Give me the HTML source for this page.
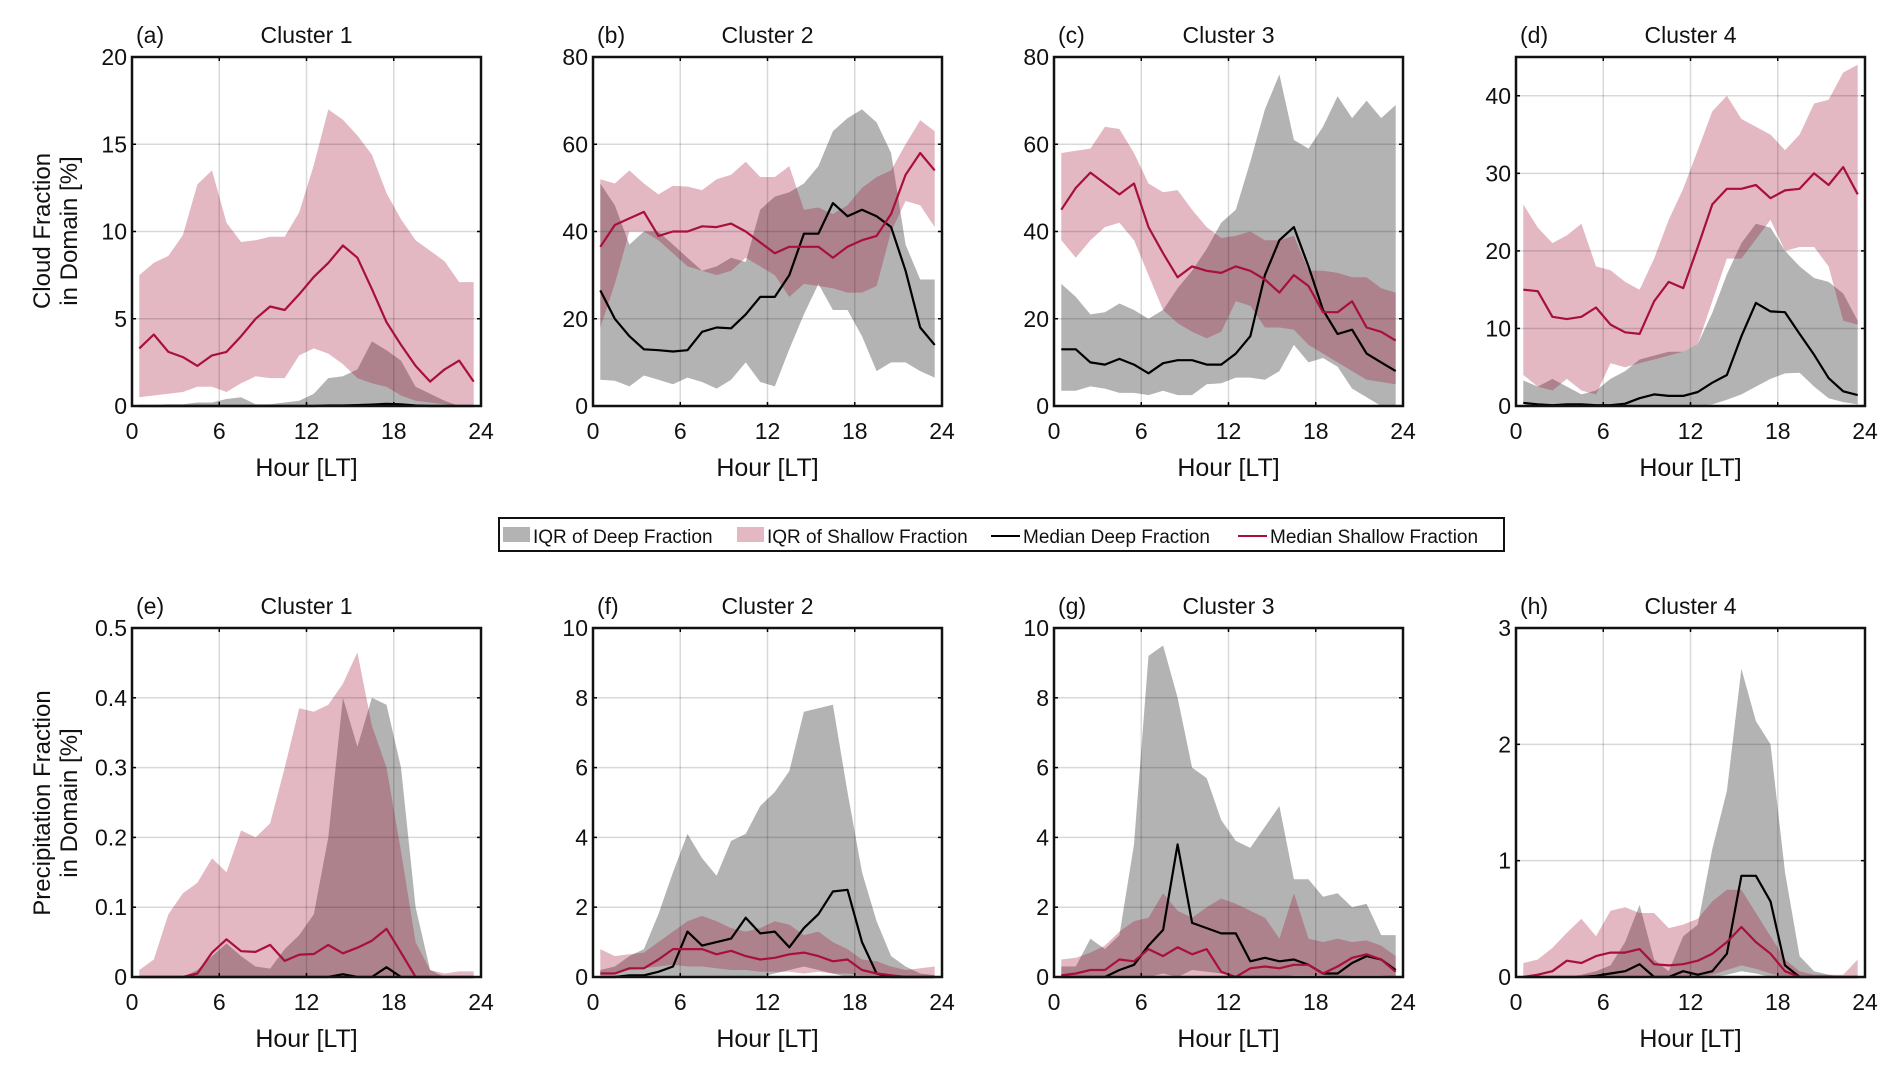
<!DOCTYPE html>
<html><head><meta charset="utf-8">
<style>
html,body{margin:0;padding:0;background:#fff;}
svg{display:block;}
text{font-family:"Liberation Sans Narrow","Liberation Sans",sans-serif;fill:#111;}
.yl{font-family:"Liberation Sans",sans-serif;}
.lg{font-family:"Liberation Sans",sans-serif;font-size:19px;}
</style></head>
<body>
<svg id="chart" width="1892" height="1072" viewBox="0 0 1892 1072" xmlns="http://www.w3.org/2000/svg"></svg>
<script>
const hours=[0.5,1.5,2.5,3.5,4.5,5.5,6.5,7.5,8.5,9.5,10.5,11.5,12.5,13.5,14.5,15.5,16.5,17.5,18.5,19.5,20.5,21.5,22.5,23.5];
const xTicks=[0,6,12,18,24];
const panelLetters=["(a)","(b)","(c)","(d)","(e)","(f)","(g)","(h)"];
const panelTitles=["Cluster 1","Cluster 2","Cluster 3","Cluster 4","Cluster 1","Cluster 2","Cluster 3","Cluster 4"];
const yMaxes=[20,80,80,45,0.5,10,10,3];
const yTickSets=[[0,5,10,15,20],[0,20,40,60,80],[0,20,40,60,80],[0,10,20,30,40],[0,0.1,0.2,0.3,0.4,0.5],[0,2,4,6,8,10],[0,2,4,6,8,10],[0,1,2,3]];

// panel a
const aShHi=[7.5,8.2,8.6,9.8,12.7,13.5,10.5,9.4,9.5,9.7,9.7,11.1,13.8,17,16.4,15.5,14.4,12.2,10.7,9.5,8.9,8.3,7.1,7.1];
const aShLo=[0.5,0.6,0.7,0.8,1.1,1.1,0.8,1.3,1.7,1.6,1.6,2.9,3.3,3.0,2.4,1.6,1.3,1.1,0.6,0.3,0.2,0.1,0,0];
const aShMed=[3.3,4.1,3.1,2.8,2.3,2.9,3.1,4.0,5.0,5.7,5.5,6.4,7.4,8.2,9.2,8.5,6.7,4.8,3.5,2.3,1.4,2.1,2.6,1.4];
const aDpHi=[0,0.05,0.1,0.1,0.2,0.2,0.4,0.5,0.1,0.1,0.2,0.3,0.7,1.6,1.7,2.1,3.7,3.2,2.6,1.1,0.7,0.3,0,0];
const aDpLo=[0,0,0,0,0,0,0,0,0,0,0,0,0,0,0,0,0,0,0,0,0,0,0,0];
const aDpMed=[0,0,0,0,0,0,0,0,0,0,0,0,0,0.03,0.03,0.05,0.08,0.12,0.1,0.03,0,0,0,0];
// panel b
const bShHi=[52,51,54,51,48.5,50.5,50.3,49.5,52,53,56,52.5,52.5,55,45,45.5,44,46,50,52.5,54,60,65.5,63];
const bShLo=[18,28,40,40,38,35,32,31,30,31,34,32,30,25,28,27.5,27,26,26,27.5,40,47,46,41];
const bShMed=[36.5,41.5,43,44.5,39,40,40,41.2,41,41.8,40,37.5,35,36.5,36.5,36.5,34,36.5,38,39,44,53,58,54];
const bDpHi=[51,46,37,40,40,37,34,31,32,34,33,45,48,49,51,55,63,66,68,65,58,37,29,29];
const bDpLo=[6,5.8,4.5,7,6,5,6.5,5.5,4,6,10,5.5,4.5,13,21,28,22,22,16,8,10,10,8,6.5];
const bDpMed=[26.5,20,16,13,12.8,12.5,12.8,17,18,17.8,21,25,25,30,39.5,39.5,46.5,43.5,45,43.5,41,31,18,14];
// panel c
const cShHi=[58,58.5,59,64,63.5,58,51,49,49.5,45,41,38.5,39,40,38,38,39,31,31,30.5,29.5,29.5,27,26];
const cShLo=[38,34,38,41,42,38,30,22,19,17,15.5,17,24,23,18,18,17.5,14,12,10,8,6,5.5,5];
const cShMed=[45,50,53.5,51,48.5,51,41,35,29.5,32,31,30.5,32,31,29,26,30,27.5,21.5,21.5,24,18,17,15];
const cDpHi=[28,25,21,21.5,23.5,22,20,22,27,31,36,42,45,56,68,76,61,59,64,71,66,70,66,69];
const cDpLo=[3.5,3.5,4.5,4,3,3,2.5,3.5,2.5,2.5,5,5.2,6.5,6.5,6,8,14,10,11,9,4,2,0,0];
const cDpMed=[13,13,10,9.5,10.8,9.5,7.5,9.8,10.5,10.5,9.5,9.5,12,16,30,38,41,32,22,16.5,17.5,12,10,8];
// panel d
const dShHi=[26,23,21,22,23.5,18,17.5,16,15,19,24,28,33,38,40,37,36,35,33,35,39,39.5,43,44];
const dShLo=[4,2.5,2,3.5,2,1.5,5.5,5,5.5,6,6.5,7,8,13.5,19,19,21.5,24,20,20.5,20.5,18,11,10.5];
const dShMed=[15,14.8,11.5,11.2,11.5,12.7,10.5,9.5,9.3,13.5,16,15.2,20.5,26,28,28,28.5,26.8,27.8,28,30,28.5,30.8,27.3];
const dDpHi=[3.3,2.5,3.5,2.5,1.5,2,3.5,4.5,6,6.5,7,7,8,12,17,21,23.5,23,20,18,16.5,16,14.5,11];
const dDpLo=[0.5,0.2,0.1,0,0,0,0,0,0,0,0,0,0,0.2,0.8,1.5,2.5,3.5,4.2,4.3,2.5,1,0.5,0.2];
const dDpMed=[0.4,0.2,0.1,0.2,0.2,0.1,0.1,0.3,1.0,1.5,1.3,1.3,1.8,3.0,4.0,9,13.3,12.2,12.1,9.3,6.6,3.6,1.9,1.4];
// panel e
const eShHi=[0.01,0.025,0.09,0.12,0.135,0.17,0.15,0.21,0.2,0.22,0.3,0.385,0.38,0.39,0.42,0.465,0.36,0.3,0.18,0.05,0.01,0.005,0.008,0.008];
const eShLo=[0,0,0,0,0,0,0,0,0,0,0,0,0,0,0,0,0,0,0,0,0,0,0,0];
const eShMed=[0,0,0,0,0.005,0.035,0.054,0.037,0.036,0.046,0.023,0.032,0.033,0.046,0.034,0.042,0.052,0.069,0.035,0,0,0,0,0];
const eDpHi=[0,0,0,0,0.01,0.03,0.048,0.03,0.015,0.012,0.04,0.06,0.09,0.2,0.4,0.33,0.4,0.39,0.3,0.1,0.01,0,0,0];
const eDpLo=[0,0,0,0,0,0,0,0,0,0,0,0,0,0,0,0,0,0,0,0,0,0,0,0];
const eDpMed=[0,0,0,0,0,0,0,0,0,0,0,0,0,0,0.004,0,0,0.014,0,0,0,0,0,0];
// panel f
const fShHi=[0.8,0.6,0.65,0.7,1.0,1.3,1.6,1.75,1.6,1.4,1.3,1.4,1.6,1.5,1.2,1.3,1.0,0.8,0.5,0.45,0.3,0.2,0.25,0.3];
const fShLo=[0.1,0.1,0.2,0.25,0.3,0.35,0.3,0.3,0.25,0.2,0.2,0.15,0.15,0.15,0.1,0.15,0.1,0.1,0.05,0.05,0.02,0,0,0];
const fShMed=[0.1,0.1,0.25,0.25,0.5,0.8,0.8,0.8,0.65,0.75,0.6,0.5,0.55,0.65,0.7,0.6,0.45,0.5,0.2,0.1,0.05,0,0,0];
const fDpHi=[0.2,0.3,0.6,0.8,1.8,3.0,4.1,3.4,2.9,3.9,4.1,4.9,5.3,5.9,7.6,7.7,7.8,5.3,3.0,1.6,0.6,0.3,0.1,0.05];
const fDpLo=[0,0,0,0,0,0,0,0,0,0,0,0,0.1,0.2,0.3,0.2,0.1,0,0,0,0,0,0,0];
const fDpMed=[0,0,0.05,0.05,0.15,0.3,1.3,0.9,1.0,1.1,1.7,1.25,1.3,0.85,1.4,1.8,2.45,2.5,1.0,0.1,0,0,0,0];
// panel g
const gShHi=[0.5,0.55,0.7,0.9,1.3,1.6,1.7,2.4,1.9,1.7,2.0,2.25,2.1,1.9,1.7,1.1,2.4,1.1,1.0,1.1,1.0,1.05,0.9,0.6];
const gShLo=[0,0,0,0,0,0,0,0,0,0,0,0,0,0,0,0,0,0,0,0,0.05,0.05,0.05,0];
const gShMed=[0.05,0.1,0.2,0.2,0.5,0.45,0.8,0.6,0.85,0.65,0.8,0.15,0,0.25,0.3,0.25,0.35,0.35,0.1,0.3,0.55,0.65,0.5,0.15];
const gDpHi=[0.3,0.3,1.1,0.8,1.2,3.8,9.2,9.5,8.0,6.0,5.7,4.5,3.9,3.7,4.3,4.9,2.8,2.8,2.3,2.4,2.0,2.1,1.2,1.2];
const gDpLo=[0,0,0,0,0,0,0,0.1,0,0.2,0.15,0.1,0,0,0,0,0.05,0.05,0.05,0,0,0,0,0];
const gDpMed=[0,0,0,0,0.2,0.35,0.9,1.35,3.8,1.55,1.4,1.25,1.25,0.45,0.55,0.45,0.5,0.35,0.1,0.1,0.4,0.6,0.5,0.2];
// panel h
const hShHi=[0.12,0.15,0.25,0.38,0.5,0.35,0.57,0.6,0.55,0.55,0.42,0.45,0.5,0.65,0.75,0.75,0.55,0.35,0.15,0.05,0.02,0.02,0.02,0.15];
const hShLo=[0,0,0,0,0,0,0,0,0,0,0,0,0,0.02,0.06,0.1,0.07,0.03,0,0,0,0,0,0];
const hShMed=[0,0.02,0.05,0.14,0.12,0.18,0.21,0.21,0.24,0.11,0.1,0.11,0.14,0.2,0.3,0.43,0.3,0.2,0.05,0,0,0,0,0];
const hDpHi=[0,0,0,0,0.02,0.05,0.1,0.3,0.62,0.15,0.05,0.35,0.45,1.1,1.6,2.65,2.2,2.0,0.9,0.18,0.05,0.02,0,0];
const hDpLo=[0,0,0,0,0,0,0,0,0,0,0,0,0,0,0.02,0.05,0.03,0,0,0,0,0,0,0];
const hDpMed=[0,0,0,0,0,0.01,0.03,0.05,0.11,0,0,0.05,0.02,0.05,0.2,0.87,0.87,0.65,0.1,0,0,0,0,0];

const panels=[
 [aDpHi,aDpLo,aDpMed,aShHi,aShLo,aShMed],[bDpHi,bDpLo,bDpMed,bShHi,bShLo,bShMed],
 [cDpHi,cDpLo,cDpMed,cShHi,cShLo,cShMed],[dDpHi,dDpLo,dDpMed,dShHi,dShLo,dShMed],
 [eDpHi,eDpLo,eDpMed,eShHi,eShLo,eShMed],[fDpHi,fDpLo,fDpMed,fShHi,fShLo,fShMed],
 [gDpHi,gDpLo,gDpMed,gShHi,gShLo,gShMed],[hDpHi,hDpLo,hDpMed,hShHi,hShLo,hShMed]];

const NS="http://www.w3.org/2000/svg";
const svg=document.getElementById('chart');
function mk(tag,attrs,parent){const e=document.createElementNS(NS,tag);for(const k in attrs)e.setAttribute(k,attrs[k]);(parent||svg).appendChild(e);return e;}
const lefts=[132,593,1054,1516], tops=[57,628], W=349, H=349;

panels.forEach((p,i)=>{
 const L=lefts[i%4], T=tops[Math.floor(i/4)], ymax=yMaxes[i];
 const xs=v=>L+v/24*W, ys=v=>T+H-v/ymax*H;
 const g=mk('g',{});
 
 
 function band(hi,lo,fill,op,name){
  let d='M'+hours.map((h,k)=>xs(h).toFixed(1)+','+ys(hi[k]).toFixed(1)).join('L');
  for(let k=hours.length-1;k>=0;k--)d+='L'+xs(hours[k]).toFixed(1)+','+ys(lo[k]).toFixed(1);
  const e=mk('path',{d:d+'Z',fill:fill,'fill-opacity':op},g);
  
  
 }
 function line(v,col,name){
  const e=mk('polyline',{points:hours.map((h,k)=>xs(h).toFixed(1)+','+ys(v[k]).toFixed(1)).join(' '),fill:'none',stroke:col,'stroke-width':2.2,'stroke-linejoin':'round'},g);
  
  
 }
 band(p[0],p[1],'#b3b3b3',1,'iqr-deep-band');
 band(p[3],p[4],'rgb(158,10,48)',0.29,'iqr-shallow-band');
 // grid
 xTicks.forEach(t=>{mk('line',{x1:xs(t),x2:xs(t),y1:T,y2:T+H,stroke:'#000','stroke-opacity':0.15,'stroke-width':1.5},g);});
 yTickSets[i].forEach(t=>{mk('line',{x1:L,x2:L+W,y1:ys(t),y2:ys(t),stroke:'#000','stroke-opacity':0.15,'stroke-width':1.5},g);});
 line(p[2],'#000','median-deep-line');
 line(p[5],'#a8103a','median-shallow-line');
 // ticks
 xTicks.forEach(t=>{mk('line',{x1:xs(t),x2:xs(t),y1:T,y2:T+4,stroke:'#000','stroke-width':1.5},g);mk('line',{x1:xs(t),x2:xs(t),y1:T+H,y2:T+H-4,stroke:'#000','stroke-width':1.5},g);
  const tx=mk('text',{x:xs(t),y:T+H+33,'text-anchor':'middle','font-size':23},g);tx.textContent=t;
  
  });
 yTickSets[i].forEach(t=>{mk('line',{x1:L,x2:L+4,y1:ys(t),y2:ys(t),stroke:'#000','stroke-width':1.5},g);mk('line',{x1:L+W,x2:L+W-4,y1:ys(t),y2:ys(t),stroke:'#000','stroke-width':1.5},g);
  const ty=mk('text',{x:L-5,y:ys(t)+8,'text-anchor':'end','font-size':23},g);ty.textContent=t;
  
  });
 mk('rect',{x:L,y:T,width:W,height:H,fill:'none',stroke:'#111','stroke-width':2.5},g);
 const lt=mk('text',{x:L+4,y:T-14,'font-size':23},g);lt.textContent=panelLetters[i];
 
 
 const tt=mk('text',{x:L+W/2,y:T-14,'text-anchor':'middle','font-size':23},g);tt.textContent=panelTitles[i];
 
 
 const xl=mk('text',{x:L+W/2,y:T+H+70,'text-anchor':'middle','font-size':25},g);xl.textContent='Hour [LT]';
 
 
});

function ylab(lines,cy,name){
 const t=mk('text',{class:'yl','text-anchor':'middle','font-size':24,transform:'translate(0,'+cy+') rotate(-90)'});
 
 
 lines.forEach((s,k)=>{const ts=mk('tspan',{x:0,y:(k===0?50:77)},t);ts.textContent=s;});
}
ylab(['Cloud Fraction','in Domain [%]'],231,'y-axis-title-cloud');
ylab(['Precipitation Fraction','in Domain [%]'],803,'y-axis-title-precip');

// legend
const lg=mk('g',{});


mk('rect',{x:499,y:518,width:1005,height:33,fill:'#fff',stroke:'#111','stroke-width':2},lg);
mk('rect',{x:503,y:527,width:27,height:15,fill:'#b3b3b3'},lg);
mk('rect',{x:737,y:527,width:27,height:15,fill:'rgb(158,10,48)','fill-opacity':0.29},lg);
mk('line',{x1:991,x2:1020,y1:536,y2:536,stroke:'#000','stroke-width':2},lg);
mk('line',{x1:1238,x2:1267,y1:536,y2:536,stroke:'#a8103a','stroke-width':2},lg);
[['IQR of Deep Fraction',533],['IQR of Shallow Fraction',767],['Median Deep Fraction',1023],['Median Shallow Fraction',1270]].forEach(([s,x])=>{
 const t=mk('text',{x:x,y:543,class:'lg'},lg);t.textContent=s;
 
 
});
</script>
</body></html>
